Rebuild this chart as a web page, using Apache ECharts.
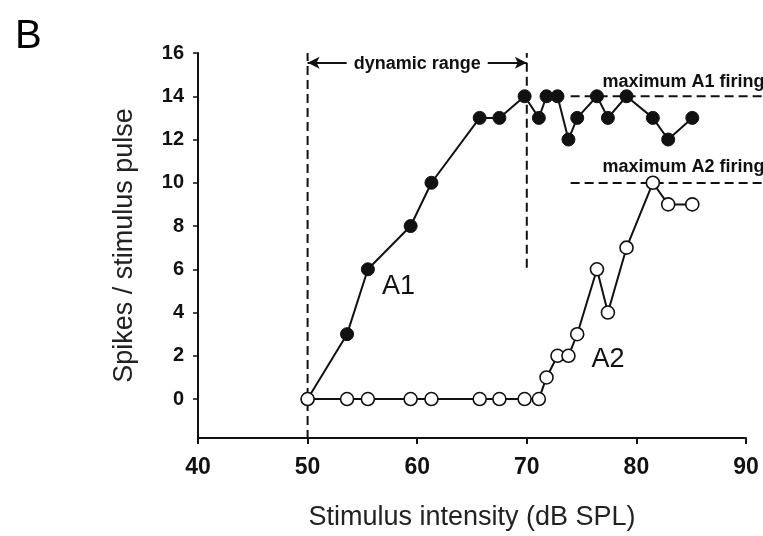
<!DOCTYPE html>
<html>
<head>
<meta charset="utf-8">
<script src="https://cdn.jsdelivr.net/npm/echarts@6/dist/echarts.min.js"></script>
<style>
  html, body { margin: 0; padding: 0; background: #fff; }
  #main { width: 763px; height: 536px; }
</style>
</head>
<body>
<div id="main"></div>
<script>
// stimulus intensities (dB SPL), shared by both units
var intensity = [50, 53.6, 55.5, 59.4, 61.3, 65.7, 67.5, 69.8, 71.1, 71.8, 72.8, 73.8, 74.6, 76.4, 77.4, 79.1, 81.5, 82.9, 85.1];
var spikesA1 = [0, 3, 6, 8, 10, 13, 13, 14, 13, 14, 14, 12, 13, 14, 13, 14, 13, 12, 13];
var spikesA2 = [0, 0, 0, 0, 0, 0, 0, 0, 0, 1, 2, 2, 3, 6, 4, 7, 10, 9, 9];

var yTicks = [0, 2, 4, 6, 8, 10, 12, 14, 16];

// annotations (data space)
var dynamicRange = [50, 70];
var dynamicRangeY = 15.55;
var maxFiring = [14, 10];           // A1, A2
var maxFiringFrom = 74;
var maxFiringTo = 91.6;             // runs past the axis end, to the page edge
var maxLabels = [['maximum A1 firing', 76.9, 14.66], ['maximum A2 firing', 76.9, 10.72]];
var unitLabels = [['A1', 58.3, 5.2], ['A2', 77.4, 1.85]];

var font = 'Liberation Sans, Arial, sans-serif';
var ink = '#111';

// the visible axis ends at 90 dB; an overlay grid with the same scale reaches the page edge
var xScale = 10.96;                  // px per dB
var plotLeft = 198, plotRight = 17;
var overlayMax = 40 + (763 - plotLeft) / xScale;

function pairs(xs, ys) {
  return xs.map(function (x, i) { return [x, ys[i]]; });
}

function dashed(data) {
  return {
    type: 'line', data: data, symbol: 'none', silent: true,
    xAxisIndex: 1, yAxisIndex: 1,
    lineStyle: { color: ink, width: 2, type: [9, 5] }, z: 1
  };
}

var chart = echarts.init(document.getElementById('main'));

var series = [
  // vertical dashed markers of the dynamic range
  dashed([[dynamicRange[0], -1.8], [dynamicRange[0], 16]]),
  dashed([[dynamicRange[1], 6.1], [dynamicRange[1], 16]]),
  // maximum firing lines
  dashed([[maxFiringFrom, maxFiring[0]], [maxFiringTo, maxFiring[0]]]),
  dashed([[maxFiringFrom, maxFiring[1]], [maxFiringTo, maxFiring[1]]]),
  {
    name: 'A1', type: 'line', data: pairs(intensity, spikesA1),
    symbol: 'circle', symbolSize: 13, z: 3,
    lineStyle: { color: ink, width: 2 },
    itemStyle: { color: ink, borderColor: ink, borderWidth: 1 },
    markLine: {
      silent: true, symbol: ['arrow', 'arrow'], symbolSize: [9, 12],
      lineStyle: { color: ink, width: 2, type: 'solid' },
      label: {
        show: true, position: 'middle', formatter: 'dynamic range',
        distance: 0, offset: [0, 10],
        color: ink, fontFamily: font, fontWeight: 'bold', fontSize: 18,
        backgroundColor: '#fff', padding: [0, 7]
      },
      data: [[{ coord: [dynamicRange[0], dynamicRangeY] }, { coord: [dynamicRange[1], dynamicRangeY] }]]
    }
  },
  {
    name: 'A2', type: 'line', data: pairs(intensity, spikesA2),
    symbol: 'circle', symbolSize: 13, z: 4,
    lineStyle: { color: ink, width: 2 },
    itemStyle: { color: '#fff', borderColor: ink, borderWidth: 1.6 }
  },
  {
    type: 'scatter', symbolSize: 0, silent: true, z: 5,
    itemStyle: { opacity: 1 },
    data: maxLabels.map(function (d) { return { value: [d[1], d[2]], name: d[0] }; }),
    label: {
      show: true, position: 'inside', align: 'left', formatter: '{b}',
      color: ink, fontFamily: font, fontWeight: 'bold', fontSize: 18
    }
  },
  {
    type: 'scatter', symbolSize: 0, silent: true, z: 5,
    itemStyle: { opacity: 1 },
    data: unitLabels.map(function (d) { return { value: [d[1], d[2]], name: d[0] }; }),
    label: {
      show: true, position: 'inside', formatter: '{b}',
      color: ink, fontFamily: font, fontSize: 27
    }
  }
];

var option = {
  animation: false,
  backgroundColor: '#fff',
  title: {
    text: 'B', left: 10, top: 12,
    textStyle: { fontFamily: font, fontWeight: 'normal', fontSize: 40, color: '#000' }
  },
  grid: [
    { left: plotLeft, right: plotRight, top: 53, bottom: 97 },
    { left: plotLeft, right: 0, top: 53, bottom: 97 }
  ],
  xAxis: [{
    type: 'value', min: 40, max: 90, interval: 10,
    name: 'Stimulus intensity (dB SPL)', nameLocation: 'middle', nameGap: 66,
    nameTextStyle: { fontFamily: font, fontSize: 27, color: '#222' },
    axisLine: { onZero: false, lineStyle: { color: ink, width: 2 } },
    axisTick: { show: true, length: 6, lineStyle: { color: ink, width: 2 } },
    axisLabel: { margin: 18, fontFamily: font, fontWeight: 'bold', fontSize: 23, color: ink },
    splitLine: { show: false }
  }, {
    type: 'value', gridIndex: 1, min: 40, max: overlayMax, show: false
  }],
  yAxis: [{
    type: 'value', min: -1.8, max: 16,
    name: 'Spikes / stimulus pulse', nameLocation: 'middle', nameGap: 60,
    nameTextStyle: { fontFamily: font, fontSize: 27, color: '#222' },
    axisLine: { show: true, onZero: false, lineStyle: { color: ink, width: 2 } },
    axisTick: { show: true, length: 5, customValues: yTicks, lineStyle: { color: ink, width: 1.5 } },
    axisLabel: { margin: 14, customValues: yTicks, fontFamily: font, fontWeight: 'bold', fontSize: 20, color: ink },
    splitLine: { show: false }
  }, {
    type: 'value', gridIndex: 1, min: -1.8, max: 16, show: false
  }],
  series: series
};

chart.setOption(option);
</script>
</body>
</html>
